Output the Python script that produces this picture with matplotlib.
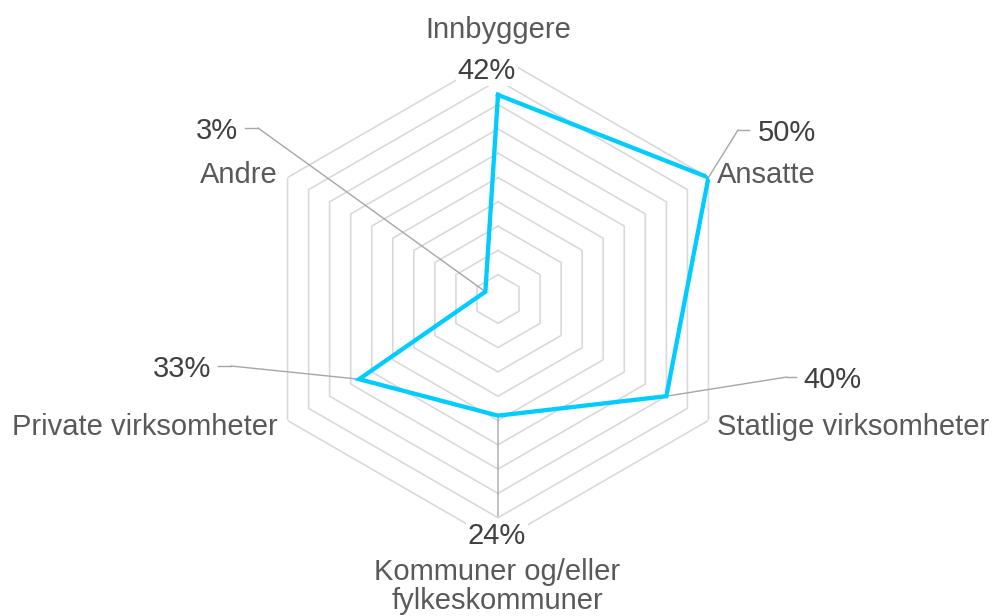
import matplotlib.pyplot as plt
import numpy as np
from matplotlib.lines import Line2D

plt.rcParams['font.family'] = ['Liberation Sans', 'DejaVu Sans']

categories = ['Innbyggere', 'Ansatte', 'Statlige virksomheter',
              'Kommuner og/eller\nfylkeskommuner', 'Private virksomheter', 'Andre']
values = [42, 50, 40, 24, 33, 3]
value_labels = ['42%', '50%', '40%', '24%', '33%', '3%']
ring_levels = np.arange(5, 55, 5)

W, H = 993, 616
fig = plt.figure(figsize=(W / 100, H / 100), dpi=100)

# polar axes centred on (498, 299) px, radius 243 px
cx, cy, R = 498, 299, 243
ax = fig.add_axes([(cx - R) / W, (H - cy - R) / H, 2 * R / W, 2 * R / H],
                  projection='polar')
ax.set_theta_zero_location('N')
ax.set_theta_direction(-1)
ax.set_ylim(0, 50)
ax.axis('off')

n = len(categories)
angles = np.linspace(0, 2 * np.pi, n, endpoint=False)
closed = np.append(angles, angles[0])

# hexagonal grid rings
for r in ring_levels:
    ax.plot(closed, [r] * (n + 1), color='#d9d9d9', lw=1.2, zorder=1)

# data line
ax.plot(closed, values + values[:1], color='#00ccff', lw=3.1,
        solid_joinstyle='miter', zorder=4)


def fx(x):
    return x / W


def fy(y):
    return 1 - y / H


lead = dict(color='#a6a6a6', lw=1.0)


def leader(i, bend, stub_end=None):
    # diagonal from data point to bend, optional horizontal stub
    ax.annotate('', xy=(angles[i], values[i]), xycoords='data',
                xytext=(fx(bend[0]), fy(bend[1])), textcoords='figure fraction',
                arrowprops=dict(arrowstyle='-', shrinkA=0, shrinkB=0, **lead),
                zorder=3)
    if stub_end is not None:
        fig.add_artist(Line2D([fx(bend[0]), fx(stub_end[0])],
                              [fy(bend[1]), fy(stub_end[1])], **lead))


leader(1, (738, 130), (749, 130))
leader(2, (787, 377), (796, 377))
leader(3, (498, 516))
leader(4, (231, 366), (218, 366))
leader(5, (258, 128), (245, 128))

vc = '#404040'
cc = '#595959'
fs = 21
box = dict(facecolor='white', edgecolor='none', pad=1)

# value labels
fig.text(fx(487), fy(79), value_labels[0], ha='center', va='baseline', fontsize=fs, color=vc, bbox=box)
fig.text(fx(758), fy(141), value_labels[1], ha='left', va='baseline', fontsize=fs, color=vc)
fig.text(fx(803), fy(388), value_labels[2], ha='left', va='baseline', fontsize=fs, color=vc)
fig.text(fx(497), fy(544), value_labels[3], ha='center', va='baseline', fontsize=fs, color=vc, bbox=box)
fig.text(fx(211), fy(377), value_labels[4], ha='right', va='baseline', fontsize=fs, color=vc)
fig.text(fx(238), fy(139), value_labels[5], ha='right', va='baseline', fontsize=fs, color=vc)

# category labels
fig.text(fx(498), fy(38), categories[0], ha='center', va='baseline', fontsize=fs, color=cc)
fig.text(fx(717), fy(183), categories[1], ha='left', va='baseline', fontsize=fs, color=cc)
fig.text(fx(717), fy(435), categories[2], ha='left', va='baseline', fontsize=fs, color=cc)
line1, line2 = categories[3].split('\n')
fig.text(fx(497), fy(580), line1, ha='center', va='baseline', fontsize=fs, color=cc)
fig.text(fx(497), fy(609), line2, ha='center', va='baseline', fontsize=fs, color=cc)
fig.text(fx(278), fy(435), categories[4], ha='right', va='baseline', fontsize=fs, color=cc)
fig.text(fx(278), fy(183), categories[5], ha='right', va='baseline', fontsize=fs, color=cc)

fig.savefig('out.png', dpi=100, facecolor='white')
